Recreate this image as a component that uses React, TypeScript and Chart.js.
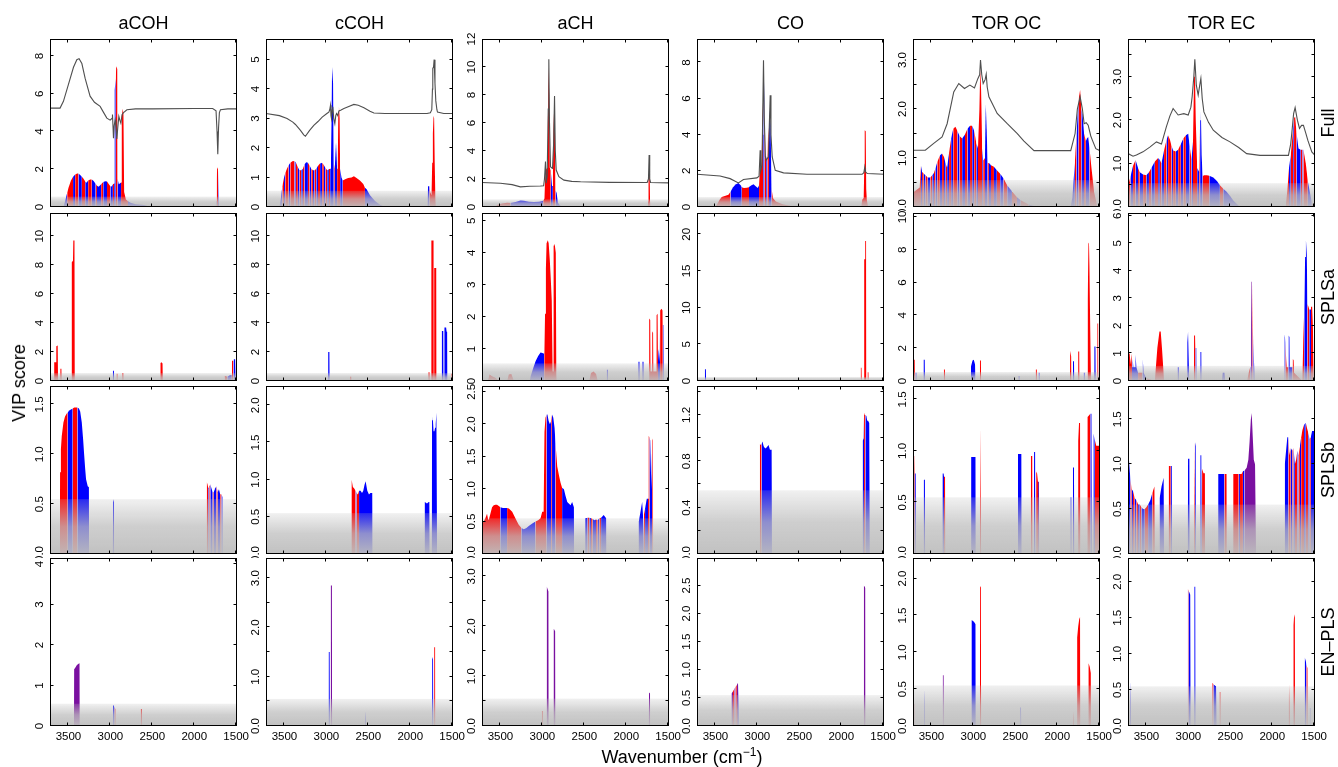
import React, { useEffect, useRef } from 'react';
import { Chart, registerables } from 'chart.js';

Chart.register(...registerables);

// [wavenumber, VIP score, sign of coefficient: 1 = positive, -1 = negative, 0 = mixed]
type Pt = [number, number, number];
// [wavenumber, scaled mean spectrum]
type SP = [number, number];

const columnTitles = ['aCOH', 'cCOH', 'aCH', 'CO', 'TOR OC', 'TOR EC'];
const rowTitles = ['Full', 'SPLSa', 'SPLSb', 'EN–PLS'];
const xTicks = [3500, 3000, 2500, 2000, 1500];
const xTickLabels = ['3500', '3000', '2500', '2000', '1500'];
const xLimits = [1490, 3720];
const vipThreshold = 0.55;

const yMaxFull = [8.9, 5.7, 12, 9.3, 3.43, 3.87];
const yStepFull = [2, 1, 2, 2, 0.5, 0.5];
const yLabelsFull = [
  ['0', '2', '4', '6', '8'],
  ['0', '1', '2', '3', '4', '5'],
  ['0', '2', '4', '6', '8', '10', '12'],
  ['0', '2', '4', '6', '8'],
  ['0.0', '', '1.0', '', '2.0', '', '3.0'],
  ['0.0', '', '1.0', '', '2.0', '', '3.0', ''],
];
const yMaxSPLSa = [11.6, 11.6, 5.24, 22.9, 10.24, 6.1];
const yStepSPLSa = [2, 2, 1, 5, 2, 1];
const yLabelsSPLSa = [
  ['0', '2', '4', '6', '8', '10'],
  ['0', '2', '4', '6', '8', '10'],
  ['0', '1', '2', '3', '4', '5'],
  ['0', '5', '10', '15', '20'],
  ['0', '2', '4', '6', '8', '10'],
  ['0', '1', '2', '3', '4', '5', '6'],
];
const yMaxSPLSb = [1.685, 2.26, 2.59, 1.45, 1.63, 1.87];
const yStepSPLSb = [0.5, 0.5, 0.5, 0.2, 0.5, 0.5];
const yLabelsSPLSb = [
  ['0.0', '0.5', '1.0', '1.5'],
  ['0.0', '0.5', '1.0', '1.5', '2.0'],
  ['0.0', '0.5', '1.0', '1.5', '2.0', '2.5'],
  ['0.0', '', '0.4', '', '0.8', '', '1.2', ''],
  ['0.0', '0.5', '1.0', '1.5'],
  ['0.0', '0.5', '1.0', '1.5'],
];
const yMaxENPLS = [4.15, 3.41, 3.37, 2.99, 2.28, 2.33];
const yStepENPLS = [1, 0.5, 0.5, 0.5, 0.5, 0.5];
const yLabelsENPLS = [
  ['0', '1', '2', '3', '4'],
  ['0.0', '', '1.0', '', '2.0', '', '3.0'],
  ['0.0', '', '1.0', '', '2.0', '', '3.0'],
  ['0.0', '0.5', '1.0', '1.5', '2.0', '2.5'],
  ['0.0', '0.5', '1.0', '1.5', '2.0'],
  ['0.0', '0.5', '1.0', '1.5', '2.0'],
];

// ---------------- Full models ----------------
const full_aCOH: Pt[] = [
  [3560, 0, -1], [3540, 0.3, -1], [3515, 0.75, 1], [3500, 1.0, 1], [3470, 1.4, 1], [3445, 1.6, -1], [3420, 1.72, 1],
  [3395, 1.78, 1], [3381, 1.78, -1], [3360, 1.7, -1], [3340, 1.6, 1], [3320, 1.5, 1], [3300, 1.35, -1], [3285, 1.28, -1],
  [3265, 1.4, 1], [3240, 1.46, 1], [3222, 1.46, -1], [3200, 1.38, -1], [3175, 1.22, 1], [3160, 1.12, -1], [3140, 1.07, -1],
  [3110, 1.2, 1], [3085, 1.32, -1], [3060, 1.37, -1], [3040, 1.35, 1], [3020, 1.22, 1], [3000, 1.1, -1], [2985, 1.08, -1],
  [2970, 1.2, 1], [2955, 1.25, -1], [2950, 1.3, -1], [2948, 6.2, -1], [2936, 6.8, 1], [2930, 7.45, 1], [2916, 7.3, 1],
  [2914, 1.5, -1], [2900, 1.2, -1], [2872, 1.3, 1], [2864, 4.8, 1], [2852, 5.2, 1], [2844, 4.9, 1], [2836, 0.8, 1],
  [2815, 0.4, 1], [2790, 0.3, -1], [2760, 0.22, -1], [2700, 0.15, -1], [2600, 0.1, -1], [2520, 0, -1],
  [1744, 0, 1], [1738, 0.3, -1], [1732, 1.5, 1], [1726, 2.1, 1], [1716, 2.0, -1], [1710, 0.3, -1], [1702, 0, 1],
];
const full_cCOH: Pt[] = [
  [3560, 0, -1], [3545, 0.25, -1], [3525, 0.7, 1], [3505, 1.0, -1], [3490, 1.15, 1], [3470, 1.3, 1], [3450, 1.42, -1],
  [3430, 1.5, 1], [3400, 1.56, 1], [3380, 1.55, -1], [3365, 1.52, 1], [3340, 1.35, -1], [3320, 1.25, 1], [3300, 1.25, -1],
  [3280, 1.3, 1], [3260, 1.45, -1], [3240, 1.52, -1], [3220, 1.5, 1], [3200, 1.4, -1], [3180, 1.3, 1], [3160, 1.25, -1],
  [3140, 1.25, 1], [3120, 1.3, -1], [3100, 1.4, 1], [3075, 1.48, -1], [3050, 1.5, 1], [3030, 1.42, -1], [3010, 1.32, 1],
  [2990, 1.25, -1], [2970, 1.28, 1], [2955, 1.3, -1], [2945, 1.6, -1], [2938, 3.0, -1], [2932, 4.75, -1], [2920, 4.2, -1],
  [2912, 1.5, 1], [2900, 1.3, -1], [2885, 2.2, -1], [2872, 1.3, 1], [2864, 1.4, 1], [2858, 3.2, 1], [2850, 3.42, 1],
  [2842, 3.0, 1], [2836, 1.3, -1], [2820, 1.0, -1], [2805, 0.9, 1], [2770, 0.95, 1], [2740, 0.98, 1], [2700, 1.0, 1],
  [2672, 1.04, 1], [2640, 0.98, 1], [2600, 0.9, 1], [2560, 0.78, 1], [2540, 0.65, -1], [2520, 0.6, -1], [2480, 0.4, -1],
  [2420, 0.2, -1], [2360, 0.08, -1], [2300, 0, -1],
  [1792, 0, -1], [1788, 0.7, -1], [1770, 0.7, 1], [1762, 0.5, 1], [1746, 0.4, 1], [1738, 1.5, 1], [1730, 2.5, 1],
  [1722, 3.1, 1], [1715, 3.0, 1], [1708, 1.5, 1], [1700, 0.3, 1], [1694, 0, 1],
];
const full_aCH: Pt[] = [
  [3560, 0, 1], [3540, 0.15, 1], [3480, 0.25, 1], [3420, 0.3, 1], [3380, 0.28, -1], [3320, 0.35, -1], [3260, 0.46, -1],
  [3220, 0.45, -1], [3160, 0.38, -1], [3100, 0.35, -1], [3040, 0.38, -1], [2990, 0.45, 1], [2975, 0.6, 1], [2968, 1.9, 1],
  [2955, 2.7, 1], [2940, 2.8, 1], [2934, 6.0, 1], [2928, 10.0, 1], [2918, 8.0, 1], [2912, 2.8, 1], [2900, 2.6, -1],
  [2885, 1.5, -1], [2875, 1.6, 1], [2868, 5.5, 1], [2860, 7.0, 1], [2850, 6.0, 1], [2843, 1.2, -1], [2830, 1.0, -1],
  [2815, 0.3, -1], [2790, 0.1, -1], [2760, 0, -1],
  [1744, 0, 1], [1739, 0.4, 1], [1734, 2.2, 1], [1720, 2.25, 1], [1716, 0.4, 1], [1710, 0, 1],
];
const full_CO: Pt[] = [
  [3500, 0, 1], [3480, 0.15, 1], [3450, 0.4, 1], [3425, 0.55, 1], [3380, 0.62, 1], [3345, 0.68, 1], [3320, 0.85, -1],
  [3290, 1.1, -1], [3260, 1.25, -1], [3226, 1.33, -1], [3200, 1.2, -1], [3186, 1.1, 1], [3160, 1.05, 1], [3126, 1.07, 1],
  [3100, 1.1, -1], [3070, 1.2, -1], [3046, 1.26, -1], [3020, 1.15, -1], [2995, 1.05, -1], [2980, 1.2, 1], [2968, 2.3, 1],
  [2958, 2.0, 1], [2948, 2.5, 1], [2938, 5.8, 1], [2930, 4.0, -1], [2926, 7.76, -1], [2915, 6.0, 1], [2905, 3.0, 1],
  [2895, 2.5, -1], [2880, 3.0, 1], [2870, 4.4, 1], [2862, 3.2, -1], [2856, 5.36, -1], [2843, 4.5, -1], [2830, 1.0, 1],
  [2815, 0.5, 1], [2780, 0.3, 1], [2700, 0.15, 1], [2600, 0.05, 1], [2560, 0, 1],
  [1760, 0, 1], [1750, 0.4, 1], [1732, 0.5, 1], [1726, 2.0, 1], [1720, 4.25, 1], [1708, 4.2, 1], [1702, 1.0, 1],
  [1695, 0.4, 1], [1680, 0, 1],
];
const full_TOROC: Pt[] = [
  [3715, 0.3, 1], [3640, 0.4, 1], [3625, 0.84, -1], [3612, 0.72, 1], [3592, 0.68, -1], [3570, 0.65, 1], [3545, 0.6, -1],
  [3513, 0.6, 1], [3490, 0.65, -1], [3470, 0.7, 1], [3453, 0.78, -1], [3430, 0.92, 1], [3400, 1.05, -1], [3373, 1.09, 1],
  [3350, 1.02, -1], [3330, 0.88, 1], [3313, 0.8, -1], [3290, 1.1, 1], [3265, 1.4, -1], [3240, 1.6, 1], [3214, 1.64, 1],
  [3190, 1.55, -1], [3165, 1.45, 1], [3134, 1.4, -1], [3100, 1.48, 1], [3070, 1.6, -1], [3040, 1.66, 1], [3014, 1.66, -1],
  [2990, 1.55, 1], [2965, 1.3, -1], [2945, 1.2, 1], [2928, 2.0, 1], [2918, 2.83, 1], [2908, 2.4, 1], [2895, 1.2, -1],
  [2883, 0.95, 1], [2862, 1.0, -1], [2852, 2.09, -1], [2842, 1.6, -1], [2830, 0.9, 1], [2815, 0.9, -1], [2790, 0.85, 1],
  [2755, 0.82, -1], [2720, 0.75, 1], [2680, 0.68, -1], [2640, 0.58, 1], [2596, 0.44, -1], [2540, 0.32, 1], [2480, 0.2, -1],
  [2436, 0.14, 1], [2340, 0.05, -1], [2237, 0, -1],
  [1840, 0, -1], [1819, 0.2, -1], [1790, 0.9, 1], [1770, 1.5, -1], [1745, 2.2, 1], [1727, 2.39, 1], [1712, 2.0, -1],
  [1699, 1.9, -1], [1680, 1.5, 1], [1659, 1.35, -1], [1645, 1.4, -1], [1631, 1.43, -1], [1615, 1.2, 1], [1592, 0.8, 1],
  [1560, 0.3, 1], [1520, 0, 1],
];
const full_TOREC: Pt[] = [
  [3716, 0.5, 1], [3690, 0.7, -1], [3660, 0.95, 1], [3630, 1.08, -1], [3600, 0.9, 1], [3580, 0.8, -1], [3540, 0.75, 1],
  [3501, 0.73, -1], [3470, 0.8, 1], [3441, 0.9, -1], [3400, 1.05, 1], [3361, 1.13, -1], [3340, 1.08, 1], [3321, 1.0, -1],
  [3290, 1.3, 1], [3260, 1.55, -1], [3242, 1.65, 1], [3220, 1.55, 1], [3200, 1.4, -1], [3182, 1.3, 1], [3150, 1.28, -1],
  [3122, 1.32, 1], [3090, 1.45, -1], [3060, 1.58, 1], [3030, 1.65, -1], [3002, 1.69, -1], [2985, 1.4, 1], [2963, 1.1, -1],
  [2945, 1.5, 1], [2932, 3.0, 1], [2923, 3.23, 1], [2912, 2.0, 1], [2895, 0.9, -1], [2870, 0.8, 1], [2860, 2.0, -1],
  [2851, 2.23, -1], [2842, 1.2, -1], [2830, 0.7, 1], [2815, 0.73, 1], [2780, 0.73, 1], [2750, 0.72, -1], [2703, 0.68, -1],
  [2660, 0.6, -1], [2624, 0.5, 1], [2584, 0.42, -1], [2544, 0.35, -1], [2500, 0.25, -1], [2464, 0.15, -1], [2385, 0, -1],
  [1840, 0, 1], [1819, 0.4, 1], [1800, 0.9, -1], [1779, 1.2, 1], [1750, 1.8, -1], [1740, 2.05, 1], [1727, 2.08, 1],
  [1710, 1.7, -1], [1687, 1.35, -1], [1660, 1.32, 1], [1640, 1.32, -1], [1628, 1.32, 1], [1600, 1.0, 1], [1576, 0.6, -1],
  [1528, 0.1, 1], [1508, 0, 1],
];

// mean spectra overlaid in the Full row (in VIP axis units)
const spec_aCOH: SP[] = [
  [3720, 5.24], [3600, 5.24], [3560, 5.6], [3500, 6.5], [3440, 7.4], [3400, 7.8], [3373, 7.86], [3340, 7.6], [3300, 6.8],
  [3242, 5.87], [3190, 5.55], [3122, 5.33], [3080, 5.0], [3042, 4.71], [3003, 4.6], [2980, 4.7], [2975, 4.9], [2968, 4.2],
  [2963, 3.64], [2955, 4.3], [2943, 4.6], [2933, 4.2], [2923, 3.6], [2912, 4.2], [2899, 4.8], [2887, 4.6], [2875, 4.44],
  [2860, 4.9], [2843, 5.0], [2803, 5.15], [2700, 5.2], [2500, 5.2], [2000, 5.22], [1780, 5.22], [1740, 5.1], [1728, 4.0],
  [1719, 2.8], [1710, 4.2], [1700, 5.0], [1687, 5.15], [1600, 5.2], [1490, 5.2],
];
const spec_cCOH: SP[] = [
  [3720, 3.17], [3560, 3.1], [3469, 3.0], [3400, 2.88], [3369, 2.8], [3309, 2.6], [3270, 2.45], [3250, 2.4], [3200, 2.6],
  [3150, 2.77], [3100, 2.9], [3050, 3.05], [2990, 3.18], [2971, 3.22], [2960, 3.3], [2951, 3.45], [2945, 3.1], [2939, 3.0],
  [2930, 3.3], [2923, 3.4], [2912, 3.0], [2899, 2.83], [2888, 3.1], [2879, 3.17], [2865, 3.1], [2851, 3.26], [2830, 3.28],
  [2791, 3.34], [2740, 3.4], [2672, 3.48], [2620, 3.45], [2552, 3.37], [2480, 3.25], [2433, 3.19], [2300, 3.17],
  [1800, 3.17], [1760, 3.2], [1743, 3.3], [1735, 4.0], [1731, 4.7], [1722, 4.75], [1715, 5.0], [1705, 4.2], [1695, 3.6],
  [1682, 3.3], [1675, 3.22], [1600, 3.17], [1490, 3.17],
];
const spec_aCH: SP[] = [
  [3720, 1.75], [3500, 1.7], [3361, 1.6], [3262, 1.44], [3150, 1.48], [3022, 1.5], [2985, 1.52], [2975, 2.0], [2963, 3.24],
  [2955, 1.7], [2943, 2.2], [2930, 7.0], [2923, 10.56], [2915, 6.0], [2903, 2.88], [2890, 2.8], [2879, 2.76], [2866, 4.5],
  [2855, 7.92], [2846, 4.0], [2835, 2.64], [2803, 2.16], [2743, 1.92], [2650, 1.83], [2544, 1.8], [2200, 1.76], [1750, 1.75],
  [1735, 2.0], [1727, 3.72], [1720, 2.0], [1710, 1.75], [1490, 1.72],
];
const spec_CO: SP[] = [
  [3720, 1.81], [3445, 1.72], [3325, 1.57], [3226, 1.33], [3166, 1.52], [3006, 1.61], [2980, 1.7], [2967, 3.14], [2960, 2.0],
  [2945, 2.3], [2935, 5.5], [2927, 8.13], [2918, 5.0], [2905, 2.8], [2895, 2.59], [2880, 2.7], [2867, 2.77], [2858, 4.5],
  [2847, 6.19], [2838, 4.0], [2823, 2.77], [2787, 2.03], [2688, 1.89], [2409, 1.81], [1751, 1.81], [1730, 1.9], [1719, 2.22],
  [1710, 1.95], [1690, 1.85], [1490, 1.81],
];
const spec_TOROC: SP[] = [
  [3720, 1.16], [3573, 1.16], [3473, 1.3], [3373, 1.43], [3313, 1.7], [3234, 2.35], [3174, 2.52], [3106, 2.42], [3042, 2.49],
  [2987, 2.43], [2947, 2.62], [2925, 2.7], [2915, 3.0], [2900, 2.7], [2883, 2.52], [2860, 2.6], [2847, 2.71], [2835, 2.45],
  [2815, 2.25], [2716, 1.91], [2596, 1.7], [2476, 1.5], [2400, 1.35], [2277, 1.15], [1839, 1.15], [1787, 1.5], [1760, 2.0],
  [1727, 2.25], [1700, 2.0], [1679, 1.7], [1655, 1.72], [1631, 1.67], [1600, 1.45], [1580, 1.36], [1540, 1.19], [1490, 1.15],
];
const spec_TOREC: SP[] = [
  [3720, 1.23], [3660, 1.17], [3620, 1.2], [3541, 1.27], [3460, 1.38], [3381, 1.5], [3321, 1.45], [3262, 1.85], [3220, 2.1],
  [3182, 2.27], [3122, 2.12], [3054, 2.15], [3002, 2.12], [2970, 2.3], [2955, 2.54], [2935, 3.0], [2923, 3.4], [2905, 2.8],
  [2883, 2.58], [2865, 2.8], [2851, 2.96], [2835, 2.5], [2815, 2.19], [2760, 1.95], [2703, 1.77], [2600, 1.6], [2504, 1.5],
  [2400, 1.37], [2305, 1.23], [2146, 1.19], [1807, 1.19], [1780, 1.45], [1767, 1.69], [1745, 2.15], [1727, 2.29],
  [1700, 2.0], [1675, 1.81], [1650, 1.88], [1628, 1.88], [1600, 1.7], [1576, 1.54], [1528, 1.27], [1490, 1.19],
];

// ---------------- SPLSa ----------------
const splsa_aCOH: Pt[] = [
  [3672, 0, 1], [3670, 1.3, 1], [3648, 1.3, 1], [3645, 2.4, 1], [3628, 2.45, 1], [3624, 0, 1], [3598, 0, 1], [3596, 0.85, 1],
  [3584, 0.85, 1], [3582, 0, 1], [3462, 0, 1], [3460, 8.2, 1], [3446, 8.3, 1], [3442, 9.7, 1], [3428, 9.7, 1], [3425, 0, 1],
  [2972, 0, -1], [2970, 0.7, -1], [2958, 0.7, -1], [2956, 0, -1], [2928, 0, 1], [2926, 0.5, 1], [2916, 0.5, 1], [2914, 0, 1],
  [2858, 0, 1], [2856, 0.55, 1], [2846, 0.55, 1], [2844, 0, 1],
  [2404, 0, 1], [2402, 1.25, 1], [2390, 1.3, 1], [2378, 1.2, 1], [2375, 0, 1],
  [1645, 0, 1], [1635, 0.35, 1], [1605, 0.3, -1], [1575, 0.4, -1], [1552, 0.4, 1], [1550, 1.4, 1], [1536, 1.4, 0],
  [1530, 1.5, -1], [1512, 1.5, -1], [1508, 0.3, -1], [1500, 0, -1],
];
const splsa_cCOH: Pt[] = [
  [2980, 0, -1], [2978, 2.0, -1], [2964, 2.0, -1], [2962, 0, -1], [2718, 0, 1], [2716, 0.3, 1], [2704, 0.3, 1], [2702, 0, 1],
  [1784, 0, 1], [1782, 0.6, 1], [1770, 0.6, 1], [1768, 0, 1],
  [1750, 0, 1], [1748, 9.7, 1], [1722, 9.7, 1], [1720, 0, 1], [1716, 0, 1], [1714, 7.8, 1], [1690, 7.8, 1], [1688, 0, 1],
  [1626, 0, -1], [1624, 3.45, -1], [1606, 3.45, -1], [1604, 0, -1], [1594, 0, -1], [1592, 3.7, -1], [1572, 3.7, -1],
  [1566, 3.4, -1], [1560, 3.4, -1], [1558, 0, -1], [1512, 0, 1], [1510, 0.5, 1], [1490, 0.5, 1],
];
const splsa_aCH: Pt[] = [
  [3650, 0, 1], [3630, 0.2, 1], [3600, 0.15, 1], [3560, 0.1, 1], [3520, 0, 1], [3420, 0, 1], [3400, 0.2, 1], [3370, 0.22, 1],
  [3340, 0, 1],
  [3150, 0, -1], [3140, 0.15, -1], [3110, 0.4, -1], [3080, 0.62, -1], [3050, 0.78, -1], [3022, 0.89, -1], [3000, 0.87, -1],
  [2978, 0.85, 1], [2968, 2.1, 1], [2958, 3.5, 1], [2950, 4.3, 1], [2935, 4.39, 1], [2925, 4.3, 1], [2912, 3.8, 1],
  [2900, 3.2, 1], [2888, 2.5, 1], [2878, 0.3, 1], [2872, 0.3, 1], [2866, 4.2, 1], [2858, 4.27, 1], [2850, 4.2, 1],
  [2840, 4.0, 1], [2834, 0.2, 1], [2830, 0, 1],
  [2440, 0, 1], [2420, 0.25, 1], [2390, 0.3, 1], [2360, 0.22, 1], [2340, 0, 1], [2234, 0, -1], [2232, 0.35, -1],
  [2220, 0.35, -1], [2218, 0, -1],
  [1856, 0, -1], [1854, 0.6, -1], [1842, 0.6, -1], [1840, 0, -1], [1808, 0, -1], [1806, 0.6, -1], [1794, 0.6, -1],
  [1792, 0, -1],
  [1728, 0, 1], [1726, 1.95, 1], [1714, 1.9, 1], [1711, 0.3, 1], [1692, 0.3, 1], [1690, 1.55, 1], [1680, 1.5, 1],
  [1677, 0.3, 1], [1642, 0.3, 1], [1638, 2.05, 1], [1626, 2.1, 1], [1622, 0.6, -1], [1612, 1.0, -1], [1600, 0.6, -1],
  [1596, 2.2, 1], [1580, 2.25, 1], [1566, 2.2, 1], [1564, 1.75, -1], [1556, 1.75, -1], [1552, 0, -1],
];
const splsa_CO: Pt[] = [
  [3628, 0, -1], [3626, 1.6, -1], [3614, 1.6, -1], [3612, 0, -1],
  [1770, 0, 1], [1768, 1.8, 1], [1758, 1.8, 1], [1756, 0, 1],
  [1728, 0, 1], [1726, 16.6, 1], [1716, 16.6, 1], [1714, 19.1, 1], [1704, 19.1, 1], [1702, 0, 1],
  [1686, 0, 1], [1684, 1.2, 1], [1674, 1.2, 1], [1672, 0, 1],
];
const splsa_TOROC: Pt[] = [
  [3714, 0, 1], [3712, 1.3, 1], [3700, 1.3, 1], [3698, 0, 1], [3692, 0, -1], [3690, 0.5, -1], [3680, 0.5, -1], [3678, 0, -1],
  [3594, 0, -1], [3592, 1.3, -1], [3580, 1.3, -1], [3578, 0, -1], [3354, 0, 1], [3352, 0.7, 1], [3340, 0.7, 1], [3338, 0, 1],
  [3030, 0, -1], [3028, 0.9, -1], [3010, 1.25, -1], [2995, 1.3, -1], [2980, 1.0, -1], [2977, 0, -1],
  [2924, 0, 1], [2922, 1.25, 1], [2910, 1.25, 1], [2908, 0, 1],
  [2464, 0, -1], [2462, 0.3, -1], [2450, 0.3, -1], [2448, 0, -1], [2258, 0, 1], [2256, 0.7, 1], [2244, 0.7, 1], [2242, 0, 1],
  [2224, 0, -1], [2222, 0.5, -1], [2212, 0.5, -1], [2210, 0, -1],
  [1848, 0, 1], [1846, 1.85, 1], [1834, 1.5, 1], [1832, 0, 1], [1814, 0, -1], [1812, 1.2, -1], [1800, 1.2, -1],
  [1798, 0, -1], [1752, 0, 1], [1750, 1.8, 1], [1738, 1.8, 1], [1736, 0, 1], [1686, 0, -1], [1684, 0.5, -1],
  [1674, 0.5, -1], [1672, 0, -1],
  [1642, 0, 1], [1636, 5.0, 1], [1628, 8.4, 1], [1622, 8.6, 1], [1616, 7.0, 1], [1606, 3.0, 1], [1598, 0, 1],
  [1560, 0, -1], [1558, 2.1, -1], [1544, 2.1, -1], [1542, 0, -1], [1524, 0, 1], [1522, 3.5, 1], [1510, 3.5, 1], [1508, 0, 1],
];
const splsa_TOREC: Pt[] = [
  [3718, 0, 1], [3716, 1.0, 1], [3700, 1.0, 1], [3690, 0.6, 1], [3680, 1.0, 1], [3672, 0.5, -1], [3664, 0.8, -1],
  [3656, 0.5, -1], [3634, 0.5, -1], [3630, 0.95, -1], [3620, 0.5, -1], [3600, 0.3, 1], [3548, 0.3, -1], [3544, 0.8, -1],
  [3534, 0.3, -1], [3500, 0.1, 1], [3400, 0, 1], [3390, 0.4, 1], [3370, 1.2, 1], [3345, 1.8, 1], [3330, 1.8, 1],
  [3315, 1.2, 1], [3300, 0.5, 1], [3290, 0, 1],
  [3130, 0, -1], [3128, 0.5, -1], [3116, 0.5, -1], [3114, 0, -1], [3016, 0, -1], [3012, 1.4, -1], [3004, 1.78, -1],
  [2994, 1.78, -1], [2990, 0, -1], [2934, 0, 1], [2932, 1.65, 1], [2920, 1.65, 1], [2915, 1.2, -1], [2906, 1.2, -1],
  [2904, 0, -1], [2858, 0, -1], [2856, 1.05, -1], [2846, 1.05, -1], [2844, 0, -1],
  [2600, 0, -1], [2590, 0.3, -1], [2570, 0.3, -1], [2560, 0, -1],
  [2300, 0, 1], [2280, 0.3, 1], [2262, 0.5, -1], [2255, 1.5, 0], [2248, 3.6, 0], [2242, 3.7, 1], [2234, 2.0, 0],
  [2225, 1.4, -1], [2215, 0.5, -1], [2210, 0, -1],
  [1854, 0, -1], [1852, 1.7, -1], [1842, 1.4, 1], [1834, 0.8, 1], [1828, 0.5, 1], [1808, 0.5, -1], [1805, 1.65, -1],
  [1795, 1.6, -1], [1792, 0.5, -1], [1760, 0.5, 1], [1755, 0.8, 1], [1745, 0.75, 1], [1740, 0.3, 1],
  [1640, 0, 1], [1630, 1.5, 1], [1618, 2.6, -1], [1608, 4.5, -1], [1598, 5.12, -1], [1588, 4.6, -1], [1580, 2.8, 1],
  [1568, 2.7, 1], [1558, 2.6, -1], [1548, 2.6, -1], [1538, 2.7, 1], [1524, 2.7, 1], [1515, 2.0, 1], [1505, 0, 1],
];

// ---------------- SPLSb ----------------
const splsb_aCOH: Pt[] = [
  [3602, 0, 1], [3600, 0.82, 1], [3590, 1.05, 1], [3580, 1.18, 1], [3560, 1.32, 1], [3541, 1.38, 1], [3520, 1.41, 1],
  [3509, 1.42, -1], [3490, 1.44, -1], [3470, 1.45, -1], [3449, 1.46, 1], [3430, 1.47, 1], [3410, 1.47, 1], [3393, 1.47, -1],
  [3375, 1.46, -1], [3360, 1.43, -1], [3341, 1.32, -1], [3325, 1.15, -1], [3313, 1.0, -1], [3300, 0.85, -1],
  [3290, 0.75, -1], [3270, 0.68, -1], [3256, 0.67, -1], [3254, 0, -1],
  [2970, 0, -1], [2968, 0.55, -1], [2958, 0.52, -1], [2956, 0, -1],
  [1852, 0, 1], [1850, 0.72, 1], [1842, 0.7, 1], [1832, 0.66, -1], [1820, 0.68, 1], [1808, 0.7, -1], [1795, 0.66, -1],
  [1780, 0.62, 1], [1768, 0.62, -1], [1750, 0.66, -1], [1735, 0.68, 1], [1720, 0.62, -1], [1705, 0.65, -1], [1690, 0.6, 1],
  [1675, 0.6, -1], [1662, 0.57, -1], [1660, 0, -1],
];
const splsb_cCOH: Pt[] = [
  [2704, 0, 1], [2702, 1.18, 1], [2696, 1.0, 1], [2684, 0.9, 1], [2668, 0.88, 1], [2652, 0.85, -1], [2640, 0.82, 1],
  [2624, 0.8, 1], [2610, 0.85, -1], [2592, 0.85, -1], [2575, 0.82, -1], [2560, 0.85, -1], [2545, 0.93, -1], [2532, 0.98, -1],
  [2520, 0.9, -1], [2512, 0.85, -1], [2492, 0.8, -1], [2475, 0.82, -1], [2453, 0.82, -1], [2451, 0, -1],
  [1828, 0, -1], [1826, 0.7, -1], [1800, 0.68, -1], [1780, 0.7, -1], [1772, 0.7, -1], [1770, 0, -1], [1742, 0, -1],
  [1740, 1.8, -1], [1732, 1.85, -1], [1722, 1.65, -1], [1712, 1.65, -1], [1704, 1.7, -1], [1696, 1.75, -1], [1688, 1.9, -1],
  [1682, 0.5, -1], [1680, 0, -1],
];
const splsb_aCH: Pt[] = [
  [3720, 0.48, 1], [3700, 0.5, 1], [3680, 0.55, 1], [3660, 0.62, 1], [3650, 0.55, 1], [3640, 0.52, 1], [3620, 0.62, 1],
  [3600, 0.72, 1], [3580, 0.75, 1], [3560, 0.76, 1], [3541, 0.76, 1], [3520, 0.74, 1], [3501, 0.72, -1], [3470, 0.71, -1],
  [3440, 0.71, -1], [3421, 0.71, 1], [3400, 0.7, 1], [3381, 0.68, 1], [3360, 0.65, 1], [3341, 0.6, 1], [3310, 0.52, 1],
  [3282, 0.45, 1], [3250, 0.4, -1], [3222, 0.38, -1], [3190, 0.4, -1], [3162, 0.43, -1], [3120, 0.47, -1], [3082, 0.5, 1],
  [3050, 0.52, 1], [3022, 0.55, 1], [3002, 0.65, 1], [2985, 0.65, 1], [2975, 1.88, 1], [2963, 2.1, 1], [2950, 2.15, -1],
  [2940, 2.15, -1], [2925, 2.05, -1], [2910, 2.0, -1], [2895, 2.05, 1], [2885, 2.15, -1], [2870, 2.1, -1], [2855, 1.95, -1],
  [2843, 1.7, 1], [2823, 1.35, 1], [2800, 1.2, 1], [2783, 1.1, 1], [2765, 1.02, -1], [2743, 1.0, -1], [2725, 0.9, -1],
  [2703, 0.8, -1], [2685, 0.78, -1], [2664, 0.75, -1], [2645, 0.8, -1], [2624, 0.72, -1], [2622, 0, -1],
  [2490, 0, -1], [2488, 0.55, -1], [2460, 0.56, 1], [2440, 0.56, -1], [2420, 0.55, 1], [2400, 0.54, -1], [2380, 0.52, -1],
  [2360, 0.53, 1], [2340, 0.52, -1], [2320, 0.55, 1], [2300, 0.56, -1], [2285, 0.58, -1], [2270, 0.6, -1], [2255, 0.58, -1],
  [2240, 0.55, -1], [2238, 0, -1],
  [1852, 0, -1], [1850, 0.5, -1], [1830, 0.65, -1], [1810, 0.8, -1], [1800, 0.6, -1], [1790, 0.6, 1], [1775, 0.7, -1],
  [1755, 0.85, -1], [1740, 0.85, 1], [1732, 1.82, 1], [1722, 1.8, -1], [1714, 1.75, -1], [1700, 1.0, -1], [1690, 1.78, 1],
  [1682, 1.75, 1], [1678, 0, 1],
];
const splsb_CO: Pt[] = [
  [2972, 0, 1], [2970, 0.95, 1], [2958, 0.94, 1], [2950, 0.95, -1], [2940, 0.97, -1], [2925, 0.93, -1], [2907, 0.91, -1],
  [2890, 0.92, -1], [2867, 0.94, -1], [2850, 0.9, -1], [2830, 0.9, -1], [2826, 0, -1],
  [1744, 0, -1], [1742, 0.98, -1], [1732, 1.0, -1], [1728, 1.22, 1], [1720, 1.2, 1], [1712, 1.2, -1], [1700, 1.19, -1],
  [1690, 1.15, -1], [1680, 1.15, -1], [1666, 1.13, -1], [1660, 1.13, -1], [1658, 0, -1],
];
const splsb_TOROC: Pt[] = [
  [3718, 0, 1], [3716, 0.95, 1], [3705, 0.95, 1], [3700, 0.78, -1], [3688, 0.78, -1], [3686, 0, -1],
  [3592, 0, -1], [3590, 0.72, -1], [3578, 0.72, -1], [3576, 0, -1], [3368, 0, -1], [3366, 0.78, -1], [3355, 0.78, -1],
  [3350, 0.75, 1], [3338, 0.75, 1], [3336, 0, 1],
  [3028, 0, -1], [3026, 0.94, -1], [2975, 0.94, -1], [2973, 0, -1], [2922, 0, 1], [2920, 1.23, 1], [2910, 1.23, 1],
  [2908, 0, 1],
  [2470, 0, -1], [2468, 0.97, -1], [2428, 0.97, -1], [2426, 0, -1], [2316, 0, 1], [2314, 0.95, 1], [2298, 0.95, 1],
  [2296, 0, 1], [2278, 0, -1], [2276, 0.99, -1], [2264, 0.99, -1], [2262, 0, -1], [2252, 0, 1], [2250, 0.8, 1],
  [2240, 0.78, 1], [2230, 0.7, 0], [2218, 0.7, 0], [2216, 0, 0],
  [1844, 0, -1], [1842, 0.55, -1], [1832, 0.55, -1], [1830, 0, -1], [1814, 0, -1], [1812, 0.84, -1], [1800, 0.84, -1],
  [1798, 0, -1], [1752, 0, 1], [1750, 1.1, 1], [1740, 1.27, 1], [1728, 1.27, 1], [1726, 0, 1],
  [1640, 0, 1], [1638, 1.33, 1], [1615, 1.35, 1], [1605, 1.36, -1], [1592, 1.36, -1], [1588, 0, -1], [1568, 0, -1],
  [1566, 1.17, -1], [1554, 1.1, -1], [1550, 1.1, 1], [1535, 1.05, 1], [1510, 1.05, 1], [1490, 1.05, 1],
];
const splsb_TOREC: Pt[] = [
  [3720, 1.22, -1], [3705, 1.0, -1], [3690, 0.82, 1], [3676, 0.72, -1], [3660, 0.7, 1], [3640, 0.62, -1], [3620, 0.6, 1],
  [3600, 0.55, -1], [3580, 0.55, 1], [3560, 0.52, -1], [3541, 0.5, -1], [3520, 0.5, 1], [3501, 0.52, 1], [3480, 0.55, -1],
  [3453, 0.6, -1], [3430, 0.68, 1], [3405, 0.75, 1], [3400, 0, 1],
  [3345, 0, -1], [3343, 0.62, -1], [3320, 0.75, -1], [3295, 0.85, -1], [3290, 0, -1], [3236, 0, 1], [3234, 0.98, 1],
  [3210, 0.98, -1], [3198, 0.98, -1], [3196, 0, -1],
  [3006, 0, -1], [3004, 1.06, -1], [2988, 1.06, -1], [2986, 0, -1], [2934, 0, 1], [2932, 1.25, 1], [2922, 1.25, -1],
  [2913, 1.2, -1], [2911, 0, -1], [2858, 0, -1], [2856, 1.1, -1], [2846, 1.1, -1], [2844, 0, -1], [2838, 0, 1],
  [2836, 0.95, 1], [2820, 0.9, 1], [2803, 0.9, 1], [2801, 0, 1],
  [2646, 0, -1], [2644, 0.89, -1], [2590, 0.89, -1], [2570, 0.89, 1], [2545, 0.89, 1], [2543, 0, 1], [2466, 0, 1],
  [2464, 0.89, 1], [2420, 0.89, 1], [2400, 0.89, -1], [2385, 0.89, 1], [2366, 0.89, 1], [2350, 0.92, -1], [2330, 0.93, 0],
  [2305, 0.96, 0], [2285, 1.05, 0], [2270, 1.25, 0], [2255, 1.5, 0], [2245, 1.57, 0], [2232, 1.3, 0], [2220, 1.05, 0],
  [2205, 1.0, 0], [2195, 1.0, 0], [2193, 0, 0],
  [1852, 0, -1], [1850, 1.0, -1], [1835, 1.15, -1], [1820, 1.3, -1], [1807, 1.3, 1], [1795, 1.1, 1], [1780, 1.18, -1],
  [1760, 1.15, 1], [1747, 1.18, -1], [1730, 1.0, 1], [1715, 1.05, 1], [1700, 1.15, -1], [1687, 1.1, 1], [1670, 1.2, -1],
  [1655, 1.3, 1], [1640, 1.38, 1], [1620, 1.44, -1], [1600, 1.46, 1], [1585, 1.4, 1], [1570, 1.35, -1], [1555, 1.28, 1],
  [1540, 1.3, -1], [1525, 1.37, -1], [1510, 1.37, -1], [1490, 1.37, -1],
];

// ---------------- EN-PLS ----------------
const enpls_aCOH: Pt[] = [
  [3434, 0, 0], [3432, 1.4, 0], [3415, 1.45, 0], [3401, 1.5, 0], [3385, 1.53, 0], [3368, 1.55, 0], [3366, 0, 0],
  [2970, 0, -1], [2968, 0.52, -1], [2960, 0.5, -1], [2950, 0.45, 1], [2940, 0.42, 1], [2938, 0, 1],
  [2861, 0, 1], [2860, 3.45, 1], [2851, 3.45, 1], [2850, 0, 1], [2638, 0, 1], [2636, 0.42, 1], [2624, 0.42, 1],
  [2622, 0, 1],
];
const enpls_cCOH: Pt[] = [
  [2975, 0, -1], [2973, 1.5, -1], [2961, 1.5, -1], [2959, 0, -1], [2950, 0, 0], [2948, 2.85, 0], [2934, 2.85, 0],
  [2932, 0, 0], [2540, 0, -1], [2538, 0.3, -1], [2528, 0.3, -1], [2526, 0, -1],
  [1740, 0, -1], [1738, 1.4, -1], [1728, 1.35, -1], [1726, 0, -1], [1716, 0, 1], [1714, 1.6, 1], [1702, 1.6, 1],
  [1700, 0, 1],
];
const enpls_aCH: Pt[] = [
  [3008, 0, 1], [3006, 0.3, 1], [2996, 0.3, 1], [2994, 0, 1], [2950, 0, 0], [2948, 2.8, 0], [2938, 2.75, 0],
  [2928, 2.7, 0], [2926, 0, 0], [2866, 0, 0], [2864, 1.95, 0], [2848, 1.9, 0], [2846, 0, 0],
  [1730, 0, 0], [1728, 0.67, 0], [1716, 0.65, 0], [1714, 0, 0],
];
const enpls_CO: Pt[] = [
  [3310, 0, 0], [3308, 0.58, 0], [3290, 0.62, 1], [3275, 0.66, 0], [3260, 0.7, 1], [3245, 0.73, 0], [3230, 0.77, -1],
  [3220, 0.77, -1], [3218, 0, -1], [1732, 0, 0], [1730, 2.5, 0], [1720, 2.48, 0], [1712, 2.45, 0], [1710, 0, 0],
];
const enpls_TOROC: Pt[] = [
  [3716, 0, 1], [3714, 0.3, 1], [3706, 0.3, 1], [3704, 0, 1], [3590, 0, -1], [3588, 0.5, -1], [3580, 0.5, -1],
  [3578, 0, -1], [3367, 0, 0], [3365, 0.69, 0], [3355, 0.69, 0], [3353, 0, 0],
  [3024, 0, -1], [3022, 1.44, -1], [3000, 1.42, -1], [2985, 1.4, -1], [2975, 1.38, -1], [2973, 0, -1], [2922, 0, 1],
  [2920, 1.9, 1], [2910, 1.88, 1], [2908, 0, 1], [2442, 0, -1], [2440, 0.25, -1], [2432, 0.25, -1], [2430, 0, -1],
  [1812, 0, 1], [1810, 0.2, 1], [1802, 0.2, 1], [1800, 0, 1],
  [1764, 0, 1], [1762, 1.2, 1], [1750, 1.35, 1], [1738, 1.45, 1], [1728, 1.48, 1], [1726, 0, 1], [1628, 0, 1],
  [1626, 0.85, 1], [1612, 0.8, 1], [1600, 0.72, 1], [1598, 0, 1],
];
const enpls_TOREC: Pt[] = [
  [3698, 0, -1], [3696, 0.62, -1], [3686, 0.62, -1], [3684, 0, -1], [3008, 0, 1], [3006, 1.9, 1], [2998, 1.88, -1],
  [2988, 1.85, -1], [2978, 1.82, -1], [2974, 0, -1], [2930, 0, -1], [2928, 1.93, -1], [2918, 1.93, -1], [2916, 0, -1],
  [2716, 0, 1], [2714, 0.6, 1], [2700, 0.58, -1], [2685, 0.56, -1], [2670, 0.55, -1], [2664, 0, -1], [2630, 0, 1],
  [2628, 0.47, 1], [2618, 0.47, 1], [2616, 0, 1],
  [1802, 0, 1], [1800, 0.58, 1], [1790, 0.58, 1], [1788, 0, 1], [1748, 0, 1], [1746, 1.4, 1], [1738, 1.55, 1],
  [1730, 1.5, 1], [1728, 0, 1], [1614, 0, -1], [1612, 0.95, -1], [1600, 0.9, -1], [1592, 0.85, 1], [1580, 0.8, 1],
  [1578, 0, 1], [1554, 0, -1], [1552, 0.25, -1], [1544, 0.25, -1], [1542, 0, -1],
];

const vipRows: Pt[][][] = [
  [full_aCOH, full_cCOH, full_aCH, full_CO, full_TOROC, full_TOREC],
  [splsa_aCOH, splsa_cCOH, splsa_aCH, splsa_CO, splsa_TOROC, splsa_TOREC],
  [splsb_aCOH, splsb_cCOH, splsb_aCH, splsb_CO, splsb_TOROC, splsb_TOREC],
  [enpls_aCOH, enpls_cCOH, enpls_aCH, enpls_CO, enpls_TOROC, enpls_TOREC],
];
const spectra: SP[][] = [spec_aCOH, spec_cCOH, spec_aCH, spec_CO, spec_TOROC, spec_TOREC];
const yMaxRows = [yMaxFull, yMaxSPLSa, yMaxSPLSb, yMaxENPLS];
const yStepRows = [yStepFull, yStepSPLSa, yStepSPLSb, yStepENPLS];
const yLabelRows = [yLabelsFull, yLabelsSPLSa, yLabelsSPLSb, yLabelsENPLS];

// ---------------- layout / style ----------------
const boxLeft = [50, 266, 482, 697, 913, 1128];
const boxTop = [39, 213, 386, 558];
const boxW = 187;
const boxH = 168;
const FONT = '"Liberation Sans", Arial, Helvetica, sans-serif';
const signColor: Record<string, string> = { '1': '#ff0000', '-1': '#0000ff', '0': '#7a10a0' };

const bandPlugin = {
  id: 'vipBand',
  afterDatasetDraw(chart: any, args: any) {
    if (chart.data.datasets[args.index].label !== 'vip') return;
    const { ctx, chartArea: a, scales } = chart;
    const y0 = scales.y.getPixelForValue(0);
    const y1 = scales.y.getPixelForValue(vipThreshold);
    const g = ctx.createLinearGradient(0, y1, 0, y0);
    g.addColorStop(0, 'rgba(190,190,190,0.22)');
    g.addColorStop(0.5, 'rgba(190,190,190,0.75)');
    g.addColorStop(1, 'rgba(190,190,190,0.95)');
    ctx.save();
    ctx.beginPath();
    ctx.rect(a.left, a.top, a.right - a.left, a.bottom - a.top);
    ctx.clip();
    ctx.fillStyle = g;
    ctx.fillRect(a.left, y1, a.right - a.left, y0 - y1);
    ctx.restore();
  },
};

function makeFramePlugin(r: number, c: number) {
  return {
    id: 'frame',
    afterDraw(chart: any) {
      const { ctx, chartArea: a, scales } = chart;
      const xs = scales.x;
      const ys = scales.y;
      const labels = yLabelRows[r][c];
      const step = yStepRows[r][c];
      const tl = 3.5;
      ctx.save();
      ctx.strokeStyle = '#000';
      ctx.lineWidth = 1;
      ctx.strokeRect(a.left + 0.5, a.top + 0.5, a.right - a.left - 1, a.bottom - a.top - 1);
      ctx.beginPath();
      xTicks.forEach((v) => {
        const px = Math.round(xs.getPixelForValue(v)) - 0.5;
        ctx.moveTo(px, a.top);
        ctx.lineTo(px, a.top + tl);
        ctx.moveTo(px, a.bottom);
        ctx.lineTo(px, a.bottom - tl);
      });
      labels.forEach((_l: string, i: number) => {
        const py = Math.round(ys.getPixelForValue(i * step)) - 0.5;
        if (py < a.top || py > a.bottom) return;
        ctx.moveTo(a.left, py);
        ctx.lineTo(a.left + tl, py);
        ctx.moveTo(a.right, py);
        ctx.lineTo(a.right - tl, py);
      });
      ctx.stroke();
      ctx.fillStyle = '#000';
      ctx.font = '11.5px ' + FONT;
      ctx.textAlign = 'center';
      ctx.textBaseline = 'middle';
      labels.forEach((lab: string, i: number) => {
        if (!lab) return;
        const py = ys.getPixelForValue(i * step);
        ctx.save();
        ctx.translate(a.left - 10.5, py);
        ctx.rotate(-Math.PI / 2);
        ctx.fillText(lab, 0, 0.5);
        ctx.restore();
      });
      if (r === 3) {
        xTicks.forEach((v, i) => {
          ctx.fillText(xTickLabels[i], xs.getPixelForValue(v), a.bottom + 11);
        });
      }
      ctx.restore();
    },
  };
}

function Panel({ r, c }: { r: number; c: number }) {
  const ref = useRef<HTMLCanvasElement>(null);
  const ML = 36;
  const MR = 18;
  const MT = 10;
  const MB = r === 3 ? 24 : 4;
  const w = ML + boxW + MR;
  const h = MT + boxH + MB;
  useEffect(() => {
    if (!ref.current) return;
    const pts = vipRows[r][c];
    const datasets: any[] = [
      {
        label: 'vip',
        data: pts.map((p) => ({ x: p[0], y: p[1] })),
        borderWidth: 0,
        borderColor: 'rgba(0,0,0,0)',
        backgroundColor: signColor['1'],
        pointRadius: 0,
        pointHoverRadius: 0,
        fill: 'origin',
        tension: 0,
        order: 1,
        segment: {
          backgroundColor: (ctx: any) => signColor[String(pts[ctx.p0DataIndex][2])],
        },
      },
    ];
    if (r === 0) {
      datasets.push({
        label: 'spectrum',
        data: spectra[c].map((p) => ({ x: p[0], y: p[1] })),
        borderColor: '#4f4f4f',
        borderWidth: 1.1,
        pointRadius: 0,
        pointHoverRadius: 0,
        fill: false,
        tension: 0,
        order: 0,
      });
    }
    const chart = new Chart(ref.current, {
      type: 'line',
      data: { datasets },
      options: {
        animation: false,
        responsive: false,
        maintainAspectRatio: false,
        events: [],
        layout: { padding: { left: ML, right: MR, top: MT, bottom: MB } },
        scales: {
          x: { type: 'linear', min: xLimits[0], max: xLimits[1], reverse: true, display: false },
          y: { type: 'linear', min: 0, max: yMaxRows[r][c], display: false },
        },
        plugins: { legend: { display: false }, tooltip: { enabled: false } },
      } as any,
      plugins: [bandPlugin, makeFramePlugin(r, c)] as any,
    });
    return () => chart.destroy();
  }, [r, c]);
  return (
    <canvas
      ref={ref}
      width={w}
      height={h}
      style={{ position: 'absolute', left: boxLeft[c] - ML, top: boxTop[r] - MT, width: w, height: h }}
    />
  );
}

export default function App() {
  const panels: JSX.Element[] = [];
  for (let r = 0; r < 4; r++) {
    for (let c = 0; c < 6; c++) panels.push(<Panel key={r + '-' + c} r={r} c={c} />);
  }
  return (
    <div
      style={{
        position: 'absolute',
        left: 0,
        top: 0,
        width: 1338,
        height: 767,
        background: '#fff',
        fontFamily: FONT,
        color: '#000',
        overflow: 'hidden',
      }}
    >
      {panels}
      {columnTitles.map((t, c) => (
        <div
          key={t}
          style={{
            position: 'absolute',
            left: boxLeft[c],
            top: 12,
            width: boxW,
            textAlign: 'center',
            fontSize: 18,
            lineHeight: '22px',
          }}
        >
          {t}
        </div>
      ))}
      {rowTitles.map((t, r) => (
        <div
          key={t}
          style={{
            position: 'absolute',
            left: 1328,
            top: boxTop[r] + boxH / 2,
            transform: 'translate(-50%, -50%) rotate(-90deg)',
            fontSize: 18,
            lineHeight: '20px',
            whiteSpace: 'nowrap',
          }}
        >
          {t}
        </div>
      ))}
      <div
        style={{
          position: 'absolute',
          left: 19,
          top: 383,
          transform: 'translate(-50%, -50%) rotate(-90deg)',
          fontSize: 18,
          lineHeight: '20px',
          whiteSpace: 'nowrap',
        }}
      >
        VIP score
      </div>
      <div
        style={{
          position: 'absolute',
          left: 682,
          top: 757,
          transform: 'translate(-50%, -50%)',
          fontSize: 18,
          lineHeight: '20px',
          whiteSpace: 'nowrap',
        }}
      >
        Wavenumber (cm<sup style={{ fontSize: 12, lineHeight: 0 }}>−1</sup>)
      </div>
    </div>
  );
}
